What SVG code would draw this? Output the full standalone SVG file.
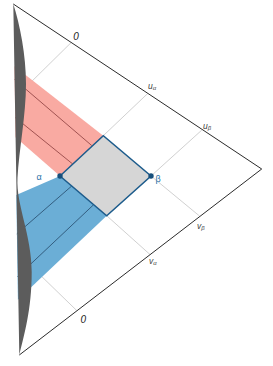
<svg xmlns="http://www.w3.org/2000/svg" width="273" height="366" viewBox="0 0 273 366">
<style>
.grid{stroke:#c4c4c4;stroke-width:0.8;fill:none}
.edge{stroke:#2b2b2b;stroke-width:1;fill:none}
.rl{stroke:#8a3c3c;stroke-width:0.8}
.bl{stroke:#25496a;stroke-width:0.8}
.lbl{font-family:"Liberation Sans",Arial,sans-serif;fill:#444;font-style:italic}
.zero{font-size:10px;fill:#222}
.uv{font-size:8.5px}
.sub{font-size:6px}
.pt{font-family:"Liberation Sans",Arial,sans-serif;font-size:9px;fill:#2a72a8}
</style>
<rect width="273" height="366" fill="#ffffff"/>
<g id="connectors">
<line class="grid" x1="71.2" y1="42.5" x2="22" y2="91"/>
<line class="grid" x1="147.7" y1="93.5" x2="103.3" y2="135.7"/>
<line class="grid" x1="201.7" y1="130.2" x2="151" y2="176"/>
<line class="grid" x1="199.5" y1="216" x2="151" y2="176"/>
<line class="grid" x1="150" y1="254.5" x2="106.7" y2="215.7"/>
<line class="grid" x1="76.7" y1="310.5" x2="35" y2="270"/>
</g>
<g id="red-band">
<polygon points="14.4,66.2 103.3,135.7 60,176 15.5,137.2" fill="#f9aaa2"/>
<line class="rl" x1="14.6" y1="79.6" x2="91.7" y2="145.5"/>
<line class="rl" x1="15.3" y1="117.6" x2="72.7" y2="164"/>
</g>
<g id="blue-band">
<polygon points="60,176 106.7,215.7 17.9,299.8 16.3,195.1" fill="#6baed6"/>
<line class="bl" x1="16.8" y1="233.8" x2="71.7" y2="186"/>
<line class="bl" x1="17.5" y1="276.5" x2="93.3" y2="205"/>
</g>
<g id="diamond">
<polygon points="60,176 103.3,135.7 151,176 106.7,215.7" fill="#d6d6d6" stroke="#1d5c8c" stroke-width="1.5" stroke-linejoin="miter"/>
</g>
<g id="alpha">
<circle cx="60" cy="176" r="2.7" fill="#174f7c"/>
<text class="pt" x="36.5" y="180">α</text>
</g>
<g id="beta">
<circle cx="151" cy="176" r="2.7" fill="#174f7c"/>
<text class="pt" x="155.5" y="182">β</text>
</g>
<g id="boundary">
<path d="M13.3,4 C20,25 26,55 26,84 C26,115 19,150 17.5,178 C16,205 31.7,235 31.7,272 C31.7,310 24,335 19.3,355 Z" fill="#5c5c5c"/>
<line class="edge" x1="13.3" y1="4" x2="261.7" y2="169"/>
<line class="edge" x1="261.7" y1="169" x2="19.3" y2="355"/>
</g>
<g id="labels">
<text class="lbl zero" x="73.3" y="39.5">0</text>
<text class="lbl zero" x="80.5" y="322.5">0</text>
<text class="lbl uv" x="148" y="89">u<tspan class="sub" dy="1">α</tspan></text>
<text class="lbl uv" x="203" y="129">u<tspan class="sub" dy="1">β</tspan></text>
<text class="lbl uv" x="197" y="228.5">v<tspan class="sub" dy="1">β</tspan></text>
<text class="lbl uv" x="149" y="263.5">v<tspan class="sub" dy="1">α</tspan></text>
</g>
</svg>
